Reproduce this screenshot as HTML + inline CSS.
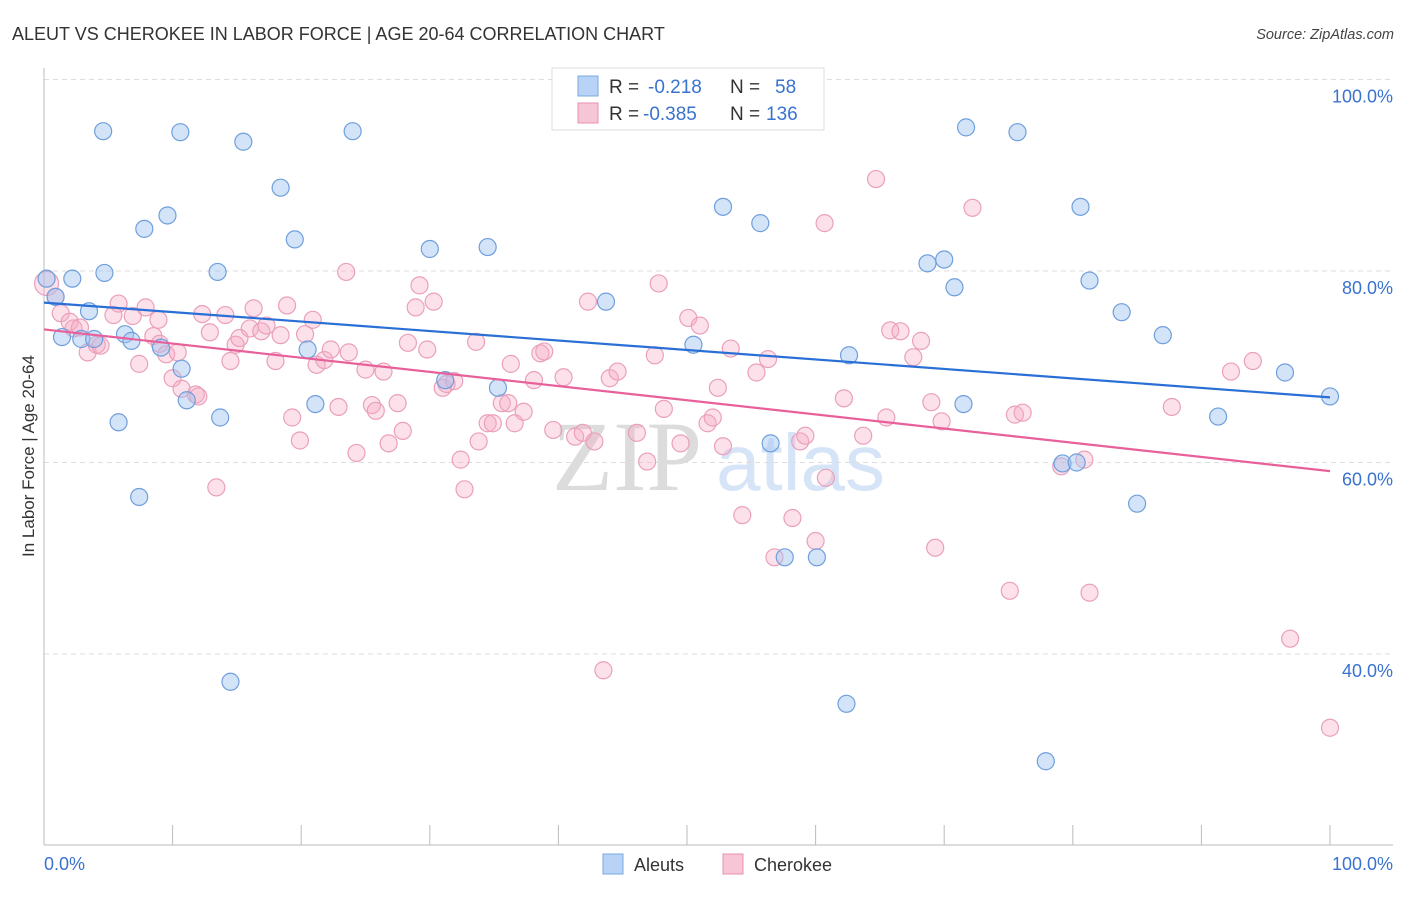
<!DOCTYPE html>
<html><head><meta charset="utf-8"><style>
body{margin:0;background:#fff;width:1406px;height:892px;overflow:hidden;font-family:"Liberation Sans",sans-serif}
svg text{font-family:"Liberation Sans",sans-serif}
</style></head><body>
<svg id="chart" width="1406" height="892" xmlns="http://www.w3.org/2000/svg">
<text x="12" y="40" font-size="18" fill="#333">ALEUT VS CHEROKEE IN LABOR FORCE | AGE 20-64 CORRELATION CHART</text>
<text x="1394" y="39" font-size="14.5" fill="#444" font-style="italic" text-anchor="end">Source: ZipAtlas.com</text>
<g>
<text x="552" y="490" font-size="100" font-family="Liberation Serif,serif" fill="#dcdcdc" style="font-family:'Liberation Serif',serif">ZIP</text>
<text x="716" y="490" font-size="80" fill="#d6e4f7">atlas</text>
</g>
<g id="grid"></g>
<g id="axes"></g>
<g id="pts"></g>
<g id="lines"></g>
<text transform="translate(34,456) rotate(-90)" font-size="17" fill="#333" text-anchor="middle">In Labor Force | Age 20-64</text>
<g>
<rect x="552" y="68" width="272" height="62" fill="#fff" stroke="#ddd"/>
<rect x="578" y="76" width="20" height="20" fill="#b8d3f5" stroke="#7aa8e0"/>
<rect x="578" y="103" width="20" height="20" fill="#f7c6d6" stroke="#e890b0"/>
<text x="609" y="93" font-size="19" fill="#333">R =</text>
<text x="648" y="93" font-size="19" fill="#3a72d0">-0.218</text>
<text x="730" y="93" font-size="19" fill="#333">N =</text>
<text x="775" y="93" font-size="19" fill="#3a72d0">58</text>
<text x="609" y="120" font-size="19" fill="#333">R =</text>
<text x="643" y="120" font-size="19" fill="#3a72d0">-0.385</text>
<text x="730" y="120" font-size="19" fill="#333">N =</text>
<text x="766" y="120" font-size="19" fill="#3a72d0">136</text>
</g>
<g>
<rect x="603" y="854" width="20" height="20" fill="#b8d3f5" stroke="#7aa8e0"/>
<text x="634" y="871" font-size="18" fill="#333">Aleuts</text>
<rect x="723" y="854" width="20" height="20" fill="#f7c6d6" stroke="#e890b0"/>
<text x="754" y="871" font-size="18" fill="#333">Cherokee</text>
</g>
</svg>
<script>
const yTicks=[40,60,80,100];
const yTickLabels=["40.0%","60.0%","80.0%","100.0%"];
const xTicks=[0,10,20,30,40,50,60,70,80,90,100];
const aleutX=[0.2,2.2,0.9,1.4,3.5,2.9,3.9,4.6,4.7,5.8,6.3,6.8,7.4,7.8,9.1,9.6,10.6,10.7,11.1,13.5,13.7,14.5,15.5,18.4,19.5,20.5,21.1,24.0,30.0,31.2,34.5,35.3,43.7,50.5,52.8,55.7,56.5,57.6,60.1,62.4,62.6,68.7,70.0,70.8,71.5,71.7,75.7,77.9,79.2,80.3,80.6,81.3,83.8,85.0,87.0,91.3,96.5,100];
const aleutY=[79.2,79.2,77.3,73.1,75.8,72.9,72.9,94.6,79.8,64.2,73.4,72.7,56.4,84.4,72.0,85.8,94.5,69.8,66.5,79.9,64.7,37.1,93.5,88.7,83.3,71.8,66.1,94.6,82.3,68.6,82.5,67.8,76.8,72.3,86.7,85.0,62.0,50.1,50.1,34.8,71.2,80.8,81.2,78.3,66.1,95.0,94.5,28.8,59.9,60.0,86.7,79.0,75.7,55.7,73.3,64.8,69.4,66.9];
const cherX=[0.2,0.9,1.3,2.0,2.3,2.8,3.4,4.1,4.4,5.4,5.8,6.9,7.4,7.9,8.5,8.9,9.0,9.5,10.0,10.4,10.7,11.8,12.0,12.3,12.9,13.4,14.1,14.5,14.9,15.2,16.0,16.3,16.9,17.3,18.0,18.4,18.9,19.3,19.9,20.3,20.9,21.2,21.8,22.3,22.9,23.5,23.7,24.3,25.0,25.5,25.8,26.4,26.8,27.5,27.9,28.3,28.9,29.2,29.8,30.3,31.0,31.3,31.9,32.4,32.7,33.6,33.8,34.5,34.9,35.6,36.1,36.3,36.6,37.3,38.1,38.6,38.9,39.6,40.4,41.3,41.9,42.3,42.8,43.5,44.0,44.6,44.8,46.1,46.9,47.5,47.8,48.2,49.5,50.1,51.0,51.6,52.0,52.4,52.8,53.4,53.7,54.3,55.4,56.3,56.8,58.2,58.8,59.2,60.0,60.7,60.8,62.2,63.7,64.7,65.5,65.8,66.6,67.6,68.2,69.0,69.3,69.8,72.2,75.1,75.5,76.1,79.1,80.9,81.3,87.7,92.3,94.0,96.9,100];
const cherY=[78.7,77.3,75.6,74.7,74.0,74.1,71.5,72.3,72.2,75.4,76.6,75.3,70.3,76.2,73.2,74.9,72.4,71.3,68.8,71.5,67.7,67.1,66.9,75.5,73.6,57.4,75.4,70.6,72.3,73.0,74.0,76.1,73.7,74.3,70.6,73.3,76.4,64.7,62.3,73.4,74.9,70.2,70.7,71.8,65.8,79.9,71.5,61.0,69.7,66.0,65.4,69.5,62.0,66.2,63.3,72.5,76.2,78.5,71.8,76.8,67.8,68.2,68.5,60.3,57.2,72.6,62.2,64.1,64.1,66.2,66.2,70.3,64.1,65.3,68.6,71.4,71.6,63.4,68.9,62.7,63.1,76.8,62.2,38.3,68.8,69.5,100,63.1,60.1,71.2,78.7,65.6,62.0,75.1,74.3,64.1,64.7,67.8,61.7,71.9,100,54.5,69.4,70.8,50.1,54.2,62.2,62.8,51.8,85.0,58.4,66.7,62.8,89.6,64.7,73.8,73.7,71.0,72.7,66.3,51.1,64.3,86.6,46.6,65.0,65.2,59.6,60.3,46.4,65.8,69.5,70.6,41.6,32.3];
const aleutTrend=[76.7,66.8];
const cherTrend=[73.9,59.1];
const NS="http://www.w3.org/2000/svg";
const X0=44,X1=1330,Y100=79.5,PX20=191.5;
const sx=v=>X0+(X1-X0)*v/100;
const sy=v=>Y100+(100-v)*PX20/20;
function mk(tag,attrs,parent){const e=document.createElementNS(NS,tag);for(const k in attrs)e.setAttribute(k,attrs[k]);parent.appendChild(e);return e;}
const grid=document.getElementById('grid'),axes=document.getElementById('axes');
yTicks.forEach((t,i)=>{
 const l=mk('line',{x1:X0,x2:1393,y1:sy(t),y2:sy(t),stroke:'#ddd','stroke-dasharray':'5,4'},grid);
 
 
 const tx=mk('text',{x:1393,y:sy(t)+23,'font-size':18,fill:'#3a72d0','text-anchor':'end'},axes);
 tx.textContent=yTickLabels[i];
 
 
});
const la=mk('line',{x1:X0,x2:X0,y1:68,y2:845,stroke:'#bbb'},axes);


const lb=mk('line',{x1:X0,x2:1393,y1:845,y2:845,stroke:'#bbb'},axes);


xTicks.forEach(t=>{
 const l=mk('line',{x1:sx(t),x2:sx(t),y1:825,y2:845,stroke:'#bbb'},axes);
 
 
});
const x0=mk('text',{x:44,y:870,'font-size':18,fill:'#3a72d0'},axes);x0.textContent='0.0%';


const x1=mk('text',{x:1393,y:870,'font-size':18,fill:'#3a72d0','text-anchor':'end'},axes);x1.textContent='100.0%';


const pts=document.getElementById('pts');
cherX.forEach((v,i)=>{
 const c=mk('circle',{cx:sx(v),cy:sy(cherY[i]),r:i==0?12:8.5,fill:'rgba(245,170,195,0.35)',stroke:'#eaa0bb','stroke-width':1.2},pts);
 
 
});
aleutX.forEach((v,i)=>{
 const c=mk('circle',{cx:sx(v),cy:sy(aleutY[i]),r:8.5,fill:'rgba(160,195,240,0.45)',stroke:'#6f9fdc','stroke-width':1.2},pts);
 
 
});
const lines=document.getElementById('lines');
const t1=mk('line',{x1:sx(0),x2:sx(100),y1:sy(aleutTrend[0]),y2:sy(aleutTrend[1]),stroke:'#2a6fd6','stroke-width':2.2},lines);


const t2=mk('line',{x1:sx(0),x2:sx(100),y1:sy(cherTrend[0]),y2:sy(cherTrend[1]),stroke:'#e8609a','stroke-width':2.2},lines);


</script>
</body></html>
